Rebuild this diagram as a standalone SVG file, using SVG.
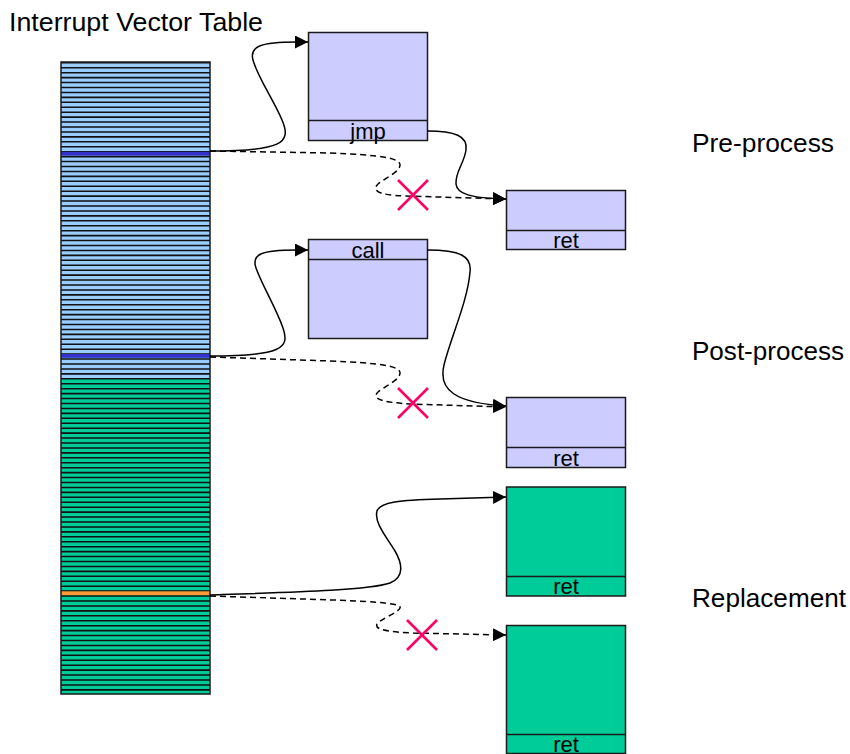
<svg xmlns="http://www.w3.org/2000/svg" width="850" height="754" viewBox="0 0 850 754">
<style>
text{font-family:"Liberation Sans",Arial,sans-serif;fill:#000}
.lbl{font-size:25px}
.bt{font-size:22px;text-anchor:middle}
.box{stroke:#1a1a1a;stroke-width:1.5}
.lav{fill:#ccccff}
.grn{fill:#00cc99}
.div{stroke:#1a1a1a;stroke-width:1.5;fill:none}
.c{fill:none;stroke:#000;stroke-width:1.5;marker-end:url(#ah)}
.d{stroke-dasharray:6 4}
.x{stroke:#ff0066;stroke-width:2.6;fill:none}
</style>
<defs>
<marker id="ah" markerUnits="userSpaceOnUse" markerWidth="13" markerHeight="13" viewBox="0 0 13 13" refX="13" refY="6.5" orient="auto">
<path d="M0,0 L13,6.5 L0,13 Z" fill="#000"/>
</marker>
</defs>
<rect width="850" height="754" fill="#fff"/>

<g id="table">
<text class="lbl" x="9" y="30.5" textLength="254" lengthAdjust="spacingAndGlyphs">Interrupt Vector Table</text>
<rect x="61" y="62" width="149" height="316" fill="#99ccff"/>
<rect x="61" y="378" width="149" height="316" fill="#00cc99"/>
<line x1="135.5" y1="62" x2="135.5" y2="694" stroke="#111" stroke-width="149" stroke-dasharray="1.6 3.3375"/>
<rect x="61" y="151.8" width="149" height="3.8" fill="#3333cc"/>
<rect x="61" y="354" width="149" height="3.8" fill="#3333cc"/>
<rect x="61" y="591.3" width="149" height="3.8" fill="#ff9933"/>
<rect x="61" y="62" width="149" height="632" fill="none" stroke="#1a1a1a" stroke-width="1.5"/>
</g>

<g id="box-jmp">
<rect class="box lav" x="308.5" y="32.5" width="119" height="108"/>
<line class="div" x1="308.5" y1="120.5" x2="427.5" y2="120.5"/>
<text class="bt" x="368" y="138.5">jmp</text>
</g>
<g id="box-ret-pre">
<rect class="box lav" x="506.5" y="190.5" width="119" height="59"/>
<line class="div" x1="506.5" y1="230.5" x2="625.5" y2="230.5"/>
<text class="bt" x="566" y="247.5">ret</text>
</g>
<g id="box-call">
<rect class="box lav" x="308.5" y="239.5" width="119" height="99"/>
<line class="div" x1="308.5" y1="259.5" x2="427.5" y2="259.5"/>
<text class="bt" x="368" y="257.5">call</text>
</g>
<g id="box-ret-post">
<rect class="box lav" x="506.5" y="397.5" width="119" height="70"/>
<line class="div" x1="506.5" y1="447.5" x2="625.5" y2="447.5"/>
<text class="bt" x="566" y="465.5">ret</text>
</g>
<g id="box-ret-repl">
<rect class="box grn" x="506.5" y="487" width="119" height="109"/>
<line class="div" x1="506.5" y1="576.5" x2="625.5" y2="576.5"/>
<text class="bt" x="566" y="594">ret</text>
</g>
<g id="box-ret-orig">
<rect class="box grn" x="506.5" y="625.5" width="119" height="128"/>
<line class="div" x1="506.5" y1="734.5" x2="625.5" y2="734.5"/>
<text class="bt" x="566" y="752">ret</text>
</g>

<g id="connectors">
<path class="c" d="M210,151 C282,151 292,143 282,120 C272,97 258,78 253,60 C249,46 262,42 296,42 L308,42"/>
<path class="c" d="M427,131 C455,131 468,136 466,150 C464,164 455,172 456,184 C457,194 470,198 506,199"/>
<path class="c d" d="M210,151 L330,153 C380,155 400,158 400,165 C400,172 385,178 378,184 C372,190 376,195 405,196 L506,199"/>
<path class="c" d="M210,356 C282,356 290,348 283,328 C276,308 262,285 256,268 C251,254 262,250 296,250 L308,250"/>
<path class="c" d="M427,250 C460,250 472,256 470,272 C468,300 450,340 444,365 C438,390 455,403 506,406"/>
<path class="c d" d="M210,357 L330,361 C380,363 400,366 400,373 C400,380 385,386 378,392 C372,398 378,402 410,404 L506,407"/>
<path class="c" d="M210,595 C300,592 370,590 390,583 C405,577 402,563 395,551 C385,535 374,522 377,511 C380,502 400,500 440,499 L506,497"/>
<path class="c d" d="M210,596 L333,600 C385,602 402,604 400,608 C398,613 380,619 377,624 C374,630 390,632 413,633 L506,635"/>
</g>

<g id="blocked">
<path class="x" d="M398,180 L428,210 M428,180 L398,210"/>
<path class="x" d="M398,388 L428,418 M428,388 L398,418"/>
<path class="x" d="M407,620 L437,650 M437,620 L407,650"/>
</g>

<g id="labels">
<text class="lbl" x="692" y="152" textLength="142" lengthAdjust="spacingAndGlyphs">Pre-process</text>
<text class="lbl" x="692" y="360" textLength="152" lengthAdjust="spacingAndGlyphs">Post-process</text>
<text class="lbl" x="692" y="607" textLength="154" lengthAdjust="spacingAndGlyphs">Replacement</text>
</g>
</svg>
